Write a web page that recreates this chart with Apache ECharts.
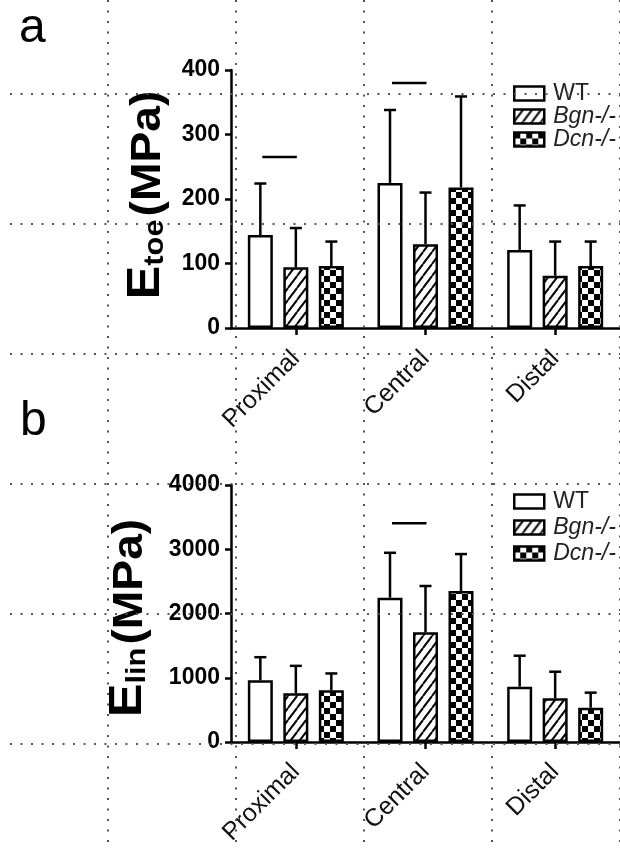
<!DOCTYPE html>
<html>
<head>
<meta charset="utf-8">
<script src="https://cdn.jsdelivr.net/npm/echarts@6/dist/echarts.min.js"></script>
<style>html,body{margin:0;padding:0;background:#fff;}#c{width:620px;height:848px;}</style>
</head>
<body>
<div id="c"></div>
<script>
// ---- data ----
const categories = ['Proximal', 'Central', 'Distal'];
const groupNames = ['WT', 'Bgn-/-', 'Dcn-/-'];
// panel a: E_toe (MPa) means and SD (upper error)
const toeWT = [144, 225, 121];
const toeWTsd = [80, 113, 69];
const toeBgn = [94, 130, 81];
const toeBgnSd = [61, 80, 53];
const toeDcn = [96, 218, 96];
const toeDcnSd = [38, 141, 38];
const toeSig = [265, 380, null];
const toeTicks = [0, 100, 200, 300, 400];
// panel b: E_lin (MPa)
const linWT = [960, 2245, 861];
const linWTsd = [360, 700, 482];
const linBgn = [760, 1707, 680];
const linBgnSd = [425, 721, 414];
const linDcn = [805, 2350, 534];
const linDcnSd = [262, 575, 234];
const linSig = [null, 3404, null];
const linTicks = [0, 1000, 2000, 3000, 4000];

// ---- styling constants ----
const FONT = 'Liberation Sans, Arial, sans-serif';
const BAR_W = 25;
const BAR_GAP = 0.42;
const BAR_STEP = BAR_W * (1 + BAR_GAP);
const CAP = 6;
const LW = 2.5;

function hatchPattern() {
  const w = 9, h = 12;
  const c = document.createElement('canvas');
  c.width = w; c.height = h;
  const g = c.getContext('2d');
  g.fillStyle = '#fff'; g.fillRect(0, 0, w, h);
  g.strokeStyle = '#000'; g.lineWidth = 2;
  for (const dx of [-w, 0, w]) {
    g.beginPath(); g.moveTo(dx, h); g.lineTo(dx + w, 0); g.stroke();
  }
  return { image: c, repeat: 'repeat' };
}
function checkerPattern() {
  const s = 6;
  const c = document.createElement('canvas');
  c.width = 2 * s; c.height = 2 * s;
  const g = c.getContext('2d');
  g.fillStyle = '#fff'; g.fillRect(0, 0, 2 * s, 2 * s);
  g.fillStyle = '#000';
  g.fillRect(0, 0, s, s); g.fillRect(s, s, s, s);
  return { image: c, repeat: 'repeat' };
}
const fills = ['#ffffff', hatchPattern(), checkerPattern()];

function errItem(params, api) {
  const cat = api.value(0), mean = api.value(1), sd = api.value(2), s = api.value(3);
  const base = api.coord([cat, mean]);
  const top = api.coord([cat, mean + sd]);
  const x = base[0] + (s - 1) * BAR_STEP;
  return {
    type: 'group', children: [
      { type: 'line', shape: { x1: x, y1: base[1], x2: x, y2: top[1] }, style: { stroke: '#000', lineWidth: LW } },
      { type: 'line', shape: { x1: x - CAP, y1: top[1], x2: x + CAP, y2: top[1] }, style: { stroke: '#000', lineWidth: LW } }
    ]
  };
}
function sigItem(params, api) {
  const p = api.coord([api.value(0), api.value(1)]);
  return { type: 'line', shape: { x1: p[0] - BAR_STEP + 2, y1: p[1], x2: p[0] + 1, y2: p[1] }, style: { stroke: '#000', lineWidth: LW } };
}

function errData(means, sds) {
  const out = [];
  means.forEach((m, s) => m.forEach((v, i) => out.push([i, v, sds[s][i], s])));
  return out;
}
function sigData(arr) {
  const out = [];
  arr.forEach((v, i) => { if (v !== null) out.push([i, v]); });
  return out;
}

function barSeries(gi, name, data) {
  return {
    type: 'bar', name: name, xAxisIndex: gi, yAxisIndex: gi, data: data,
    barWidth: BAR_W, barGap: (BAR_GAP * 100) + '%', z: 2,
    itemStyle: { color: fills[groupNames.indexOf(name)], borderColor: '#000', borderWidth: LW },
    emphasis: { disabled: true }
  };
}

const legendData = groupNames.map((n, i) => ({
  name: n,
  textStyle: { fontStyle: i === 0 ? 'normal' : 'italic' }
}));
function legend(top, gap) {
  return {
    orient: 'vertical', left: 513, top: top, icon: 'rect', padding: 0,
    itemWidth: 30, itemHeight: 14, itemGap: gap,
    itemStyle: { borderColor: '#000', borderWidth: LW },
    textStyle: { fontFamily: FONT, fontSize: 23, lineHeight: 22, color: '#222', padding: [0, 0, 0, 4] },
    data: legendData, selectedMode: false
  };
}

function catAxis(gi, margin) {
  return {
    type: 'category', gridIndex: gi, data: categories,
    axisLine: { show: true, lineStyle: { color: '#000', width: LW } },
    axisTick: { show: true, alignWithLabel: true, length: 7, lineStyle: { color: '#000', width: LW } },
    axisLabel: { rotate: 45, margin: margin, fontFamily: FONT, fontSize: 25, color: '#111', interval: 0 },
    splitLine: { show: false }
  };
}
function valAxis(gi, ticks) {
  return {
    type: 'value', gridIndex: gi, min: ticks[0], max: ticks[ticks.length - 1],
    interval: ticks[1] - ticks[0],
    axisLine: { show: true, lineStyle: { color: '#000', width: LW } },
    axisTick: { show: true, length: 6, lineStyle: { color: '#000', width: LW } },
    axisLabel: { margin: 11, fontFamily: FONT, fontSize: 23, fontWeight: 'bold', color: '#000', formatter: v => String(v) },
    splitLine: { show: false }
  };
}
const titleRich = {
  e: { fontFamily: FONT, fontWeight: 'bold', fontSize: 46, lineHeight: 48, verticalAlign: 'bottom', fill: '#000' },
  s: { fontFamily: FONT, fontWeight: 'bold', fontSize: 28, lineHeight: 16, verticalAlign: 'bottom', fill: '#000' },
  g: { fontFamily: FONT, fontSize: 10, lineHeight: 48, verticalAlign: 'bottom' },
  m: { fontFamily: FONT, fontWeight: 'bold', fontSize: 42, lineHeight: 48, verticalAlign: 'bottom', fill: '#000' }
};
function yTitle(x, y, sub) {
  return {
    type: 'text', x: x, y: y, rotation: Math.PI / 2, scaleX: 1.1, z: 5,
    style: { text: '{e|E}{s|' + sub + '}{g| }{m|(MPa)}', rich: titleRich, align: 'center', verticalAlign: 'middle', fill: '#000' }
  };
}
const dotLine = { show: true, lineStyle: { color: '#555', width: 2, type: [2, 8.5] } };

const option = {
  animation: false,
  backgroundColor: '#fff',
  title: [
    { text: 'a', left: 14, top: 0, textStyle: { fontFamily: FONT, fontSize: 48, fontWeight: 'normal', color: '#000' } },
    { text: 'b', left: 15, top: 393, textStyle: { fontFamily: FONT, fontSize: 48, fontWeight: 'normal', color: '#000' } }
  ],
  legend: [legend(82, 0), legend(490, 3)],
  graphic: [yTitle(145, 195, 'toe'), yTitle(127, 618, 'lin')],
  grid: [
    { left: 231, top: 70, width: 390, height: 258 },
    { left: 231, top: 485, width: 390, height: 257 },
    { left: 108, top: 0, width: 520, height: 848 },
    { left: 10, top: 94, width: 620, height: 650 }
  ],
  xAxis: [
    catAxis(0, 27), catAxis(1, 26),
    { type: 'value', gridIndex: 2, min: 0, max: 4, interval: 1, z: 10, axisLine: { show: false }, axisTick: { show: false }, axisLabel: { show: false }, splitLine: dotLine },
    { type: 'value', gridIndex: 3, min: 0, max: 1, show: false }
  ],
  yAxis: [
    valAxis(0, toeTicks), valAxis(1, linTicks),
    { type: 'value', gridIndex: 2, min: 0, max: 1, show: false },
    { type: 'value', gridIndex: 3, min: 0, max: 5, interval: 1, z: 10, axisLine: { show: false }, axisTick: { show: false }, axisLabel: { show: false }, splitLine: dotLine }
  ],
  series: [
    barSeries(0, 'WT', toeWT), barSeries(0, 'Bgn-/-', toeBgn), barSeries(0, 'Dcn-/-', toeDcn),
    barSeries(1, 'WT', linWT), barSeries(1, 'Bgn-/-', linBgn), barSeries(1, 'Dcn-/-', linDcn),
    { type: 'custom', name: 'errA', xAxisIndex: 0, yAxisIndex: 0, z: 3, renderItem: errItem,
      data: errData([toeWT, toeBgn, toeDcn], [toeWTsd, toeBgnSd, toeDcnSd]), encode: { x: 0, y: 1 } },
    { type: 'custom', name: 'errB', xAxisIndex: 1, yAxisIndex: 1, z: 3, renderItem: errItem,
      data: errData([linWT, linBgn, linDcn], [linWTsd, linBgnSd, linDcnSd]), encode: { x: 0, y: 1 } },
    { type: 'custom', name: 'sigA', xAxisIndex: 0, yAxisIndex: 0, z: 3, renderItem: sigItem, data: sigData(toeSig), encode: { x: 0, y: 1 } },
    { type: 'custom', name: 'sigB', xAxisIndex: 1, yAxisIndex: 1, z: 3, renderItem: sigItem, data: sigData(linSig), encode: { x: 0, y: 1 } }
  ]
};
const chart = echarts.init(document.getElementById('c'), null, { renderer: 'canvas' });
chart.setOption(option);
</script>
</body>
</html>
